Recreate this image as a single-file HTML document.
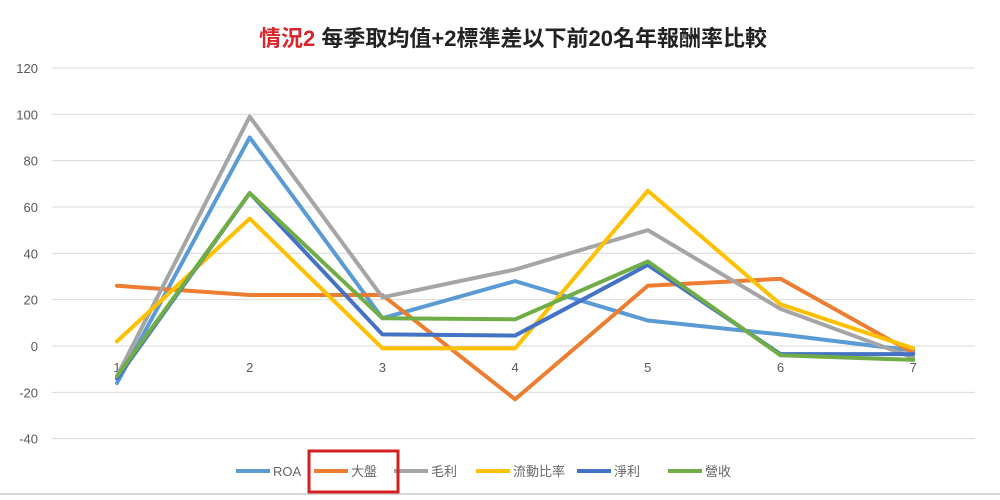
<!DOCTYPE html>
<html><head><meta charset="utf-8"><style>
body{margin:0;background:#fff;}
svg{display:block;font-family:"Liberation Sans","Noto Sans CJK TC",sans-serif;}
</style></head><body>
<svg id="chart" width="1000" height="500">
<rect x="0" y="0" width="1000" height="500" fill="#fff"/>
<line x1="0" y1="494" x2="1000" y2="494" stroke="#d9d9d9" stroke-width="2"/>
<text x="513" y="46" text-anchor="middle" font-size="22" font-weight="bold"><tspan fill="#d9262c">情況2</tspan><tspan fill="#222"> 每季取均值+2標準差以下前20名年報酬率比較</tspan></text>
<g id="grid"></g><g id="series"></g><g id="legend"></g>
<rect x="309" y="451" width="89" height="41" fill="none" stroke="#d42020" stroke-width="3"/>
</svg>
<script>
const categories=["1","2","3","4","5","6","7"];
const yTicks=[120,100,80,60,40,20,0,-20,-40];
const seriesNames=["ROA","大盤","毛利","流動比率","淨利","營收"];
const roa=[-16,90,12,28,11,5,-2];
const market=[26,22,22,-23,26,29,-3];
const grossProfit=[-13,99,21,33,50,16,-5];
const currentRatio=[2,55,-1,-1,67,18,-1];
const netProfit=[-14,66,5,4.5,35,-3.5,-3.5];
const revenue=[-13,66,12,11.5,36.5,-4,-6];
const colors=["#5b9bd5","#ed7d31","#a5a5a5","#ffc000","#4472c4","#70ad47"];
const allSeries=[roa,market,grossProfit,currentRatio,netProfit,revenue];
const NS="http://www.w3.org/2000/svg";
const y=v=>346-v*2.317;
const x=i=>117+i*132.7;
function mk(t,a,p){const e=document.createElementNS(NS,t);for(const k in a)e.setAttribute(k,a[k]);p.appendChild(e);return e;}
const grid=document.getElementById('grid');
yTicks.forEach(v=>{
 const l=mk('line',{x1:52,x2:975,y1:y(v),y2:y(v),stroke:'#d9d9d9','stroke-width':1},grid);
 
 
 const t=mk('text',{x:38,y:y(v)+5,'text-anchor':'end','font-size':13,fill:'#595959'},grid);
 t.textContent=v;
 
 
});
categories.forEach((c,i)=>{
 const t=mk('text',{x:x(i),y:372,'text-anchor':'middle','font-size':13,fill:'#595959'},grid);
 t.textContent=c;
 
 
});
const sg=document.getElementById('series');
allSeries.forEach((s,k)=>{
 const p=mk('polyline',{points:s.map((v,i)=>x(i)+','+y(v)).join(' '),fill:'none',stroke:colors[k],'stroke-width':4,'stroke-linejoin':'round','stroke-linecap':'round'},sg);
 
 
});
const lg=document.getElementById('legend');
const lx=[236,314,394,476,577,668];
seriesNames.forEach((n,k)=>{
 const l=mk('line',{x1:lx[k],x2:lx[k]+34,y1:471,y2:471,stroke:colors[k],'stroke-width':4},lg);
 
 
 const t=mk('text',{x:lx[k]+37,y:476,'font-size':13,fill:'#666'},lg);
 t.textContent=n;
 
 
});
</script>
</body></html>
